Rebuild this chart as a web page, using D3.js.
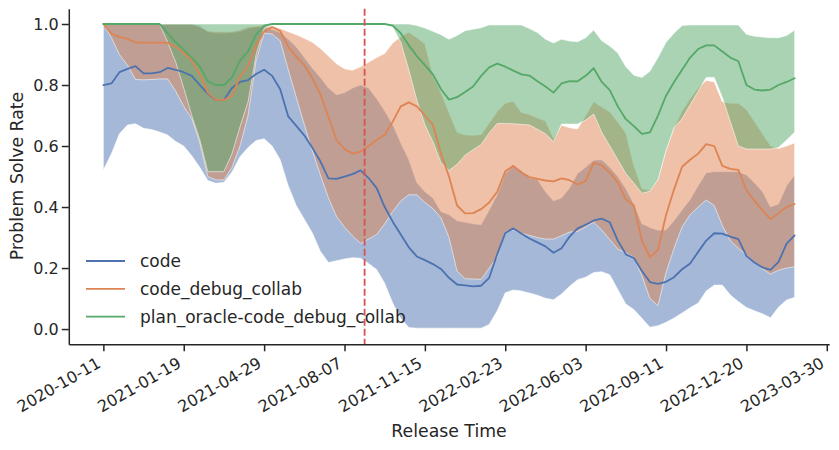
<!DOCTYPE html>
<html><head><meta charset="utf-8">
<script src="https://cdn.jsdelivr.net/npm/d3@7"></script>
<style>
body{margin:0;background:#fff}
svg{display:block}
text{font-family:"DejaVu Sans",Verdana,sans-serif;fill:#262626}
</style>
</head><body>
<svg id="chart" width="839" height="450"></svg>
<script>
const dates = ["2020-10-11","2020-10-21","2020-10-31","2020-11-10","2020-11-20","2020-11-30","2020-12-10","2020-12-20","2020-12-30",
"2021-01-09","2021-01-19","2021-01-29","2021-02-08","2021-02-18","2021-02-28","2021-03-10","2021-03-20","2021-03-30","2021-04-09","2021-04-19","2021-04-29","2021-05-09","2021-05-19","2021-05-29","2021-06-08","2021-06-18","2021-06-28","2021-07-08","2021-07-18","2021-07-28","2021-08-07","2021-08-17","2021-08-27","2021-09-06","2021-09-16","2021-09-26","2021-10-06","2021-10-16","2021-10-26","2021-11-05","2021-11-15","2021-11-25","2021-12-05","2021-12-15","2021-12-25",
"2022-01-04","2022-01-14","2022-01-24","2022-02-03","2022-02-13","2022-02-23","2022-03-05","2022-03-15","2022-03-25","2022-04-04","2022-04-14","2022-04-24","2022-05-04","2022-05-14","2022-05-24","2022-06-03","2022-06-13","2022-06-23","2022-07-03","2022-07-13","2022-07-23","2022-08-02","2022-08-12","2022-08-22","2022-09-01","2022-09-11","2022-09-21","2022-10-01","2022-10-11","2022-10-21","2022-10-31","2022-11-10","2022-11-20","2022-11-30","2022-12-10","2022-12-20","2022-12-30",
"2023-01-09","2023-01-19","2023-01-29","2023-02-08","2023-02-18"];
const tickDates = ["2020-10-11","2021-01-19","2021-04-29","2021-08-07","2021-11-15","2022-02-23","2022-06-03","2022-09-11","2022-12-20","2023-03-30"];
const yTicks = [0.0,0.2,0.4,0.6,0.8,1.0];
const cutoffDate = "2021-09-01";
const seriesNames = ["code","code_debug_collab","plan_oracle-code_debug_collab"];
const seriesColors = ["#4C72B0","#DD8452","#55A868"];

const codeMean = [0.80,0.805,0.842,0.853,0.862,0.838,0.838,0.842,0.856,0.85,
0.842,0.83,0.80,0.772,0.751,0.751,0.79,0.81,0.816,0.836,
0.85,0.83,0.786,0.697,0.666,0.635,0.594,0.55,0.494,0.492,
0.50,0.508,0.52,0.495,0.462,0.40,0.352,0.31,0.268,0.238,
0.226,0.213,0.197,0.168,0.146,0.143,0.14,0.142,0.168,0.245,
0.315,0.33,0.313,0.297,0.284,0.271,0.25,0.265,0.303,0.33,
0.342,0.356,0.362,0.35,0.29,0.245,0.233,0.19,0.154,0.148,
0.155,0.17,0.196,0.215,0.253,0.29,0.314,0.313,0.303,0.295,
0.24,0.218,0.202,0.194,0.22,0.28,0.307];
const codeLow = [0.521,0.575,0.64,0.669,0.673,0.658,0.654,0.646,0.636,0.615,
0.60,0.568,0.53,0.487,0.478,0.481,0.515,0.565,0.595,0.618,
0.624,0.60,0.555,0.47,0.405,0.36,0.315,0.255,0.218,0.224,
0.23,0.234,0.232,0.215,0.195,0.15,0.085,0.035,0.005,0.003,
0.003,0.003,0.003,0.003,0.003,0.003,0.003,0.003,0.015,0.06,
0.119,0.128,0.125,0.118,0.111,0.101,0.096,0.115,0.14,0.162,
0.17,0.185,0.188,0.178,0.13,0.082,0.064,0.035,0.006,0.011,
0.022,0.036,0.053,0.07,0.085,0.125,0.144,0.144,0.112,0.09,
0.071,0.06,0.05,0.037,0.072,0.095,0.104];
const codeHigh = [1,1,1,1,1,1,1,1,1,1,
1,1,0.995,0.975,0.97,0.97,0.972,0.975,0.985,0.99,
0.99,0.982,0.972,0.95,0.925,0.89,0.855,0.825,0.79,0.768,
0.775,0.79,0.80,0.79,0.755,0.715,0.67,0.61,0.555,0.48,
0.45,0.43,0.385,0.375,0.355,0.35,0.345,0.342,0.39,0.44,
0.51,0.535,0.52,0.495,0.49,0.45,0.42,0.43,0.462,0.51,
0.53,0.553,0.555,0.53,0.50,0.46,0.41,0.345,0.333,0.324,
0.325,0.355,0.39,0.425,0.47,0.512,0.516,0.516,0.516,0.516,
0.505,0.48,0.45,0.40,0.41,0.47,0.505];

const cdcMean = [1.0,0.968,0.958,0.951,0.94,0.939,0.939,0.939,0.938,0.925,
0.905,0.88,0.835,0.775,0.751,0.751,0.765,0.827,0.86,0.93,
0.975,0.99,0.977,0.925,0.893,0.865,0.822,0.77,0.696,0.62,
0.59,0.575,0.582,0.60,0.62,0.637,0.68,0.73,0.743,0.73,
0.70,0.669,0.575,0.50,0.405,0.379,0.38,0.393,0.415,0.45,
0.517,0.535,0.513,0.498,0.492,0.487,0.484,0.494,0.488,0.474,
0.485,0.545,0.537,0.513,0.48,0.425,0.405,0.29,0.235,0.26,
0.374,0.458,0.532,0.555,0.575,0.606,0.60,0.535,0.525,0.522,
0.455,0.42,0.39,0.36,0.38,0.40,0.41];
const cdcLow = [1.0,0.955,0.90,0.865,0.818,0.817,0.818,0.82,0.82,0.78,
0.73,0.69,0.61,0.50,0.489,0.489,0.53,0.60,0.70,0.88,
0.97,0.967,0.945,0.85,0.76,0.67,0.585,0.505,0.43,0.37,
0.334,0.305,0.281,0.295,0.31,0.345,0.385,0.42,0.44,0.44,
0.415,0.395,0.365,0.30,0.19,0.165,0.164,0.163,0.20,0.235,
0.318,0.325,0.314,0.307,0.30,0.295,0.295,0.306,0.318,0.32,
0.335,0.35,0.325,0.293,0.262,0.25,0.235,0.175,0.10,0.077,
0.185,0.265,0.335,0.375,0.40,0.423,0.405,0.34,0.29,0.265,
0.243,0.22,0.197,0.18,0.193,0.20,0.204];
const cdcHigh = [1,1,1,1,1,1,1,1,1,1,
1,1,0.99,0.977,0.975,0.975,0.975,0.98,0.99,0.993,
0.995,0.992,0.985,0.975,0.965,0.953,0.94,0.92,0.895,0.87,
0.853,0.848,0.86,0.875,0.89,0.903,0.938,0.958,0.973,0.955,
0.935,0.83,0.775,0.71,0.645,0.636,0.635,0.638,0.675,0.713,
0.74,0.747,0.71,0.703,0.692,0.682,0.625,0.668,0.66,0.656,
0.70,0.745,0.728,0.712,0.678,0.642,0.535,0.46,0.455,0.49,
0.585,0.66,0.715,0.755,0.79,0.815,0.81,0.745,0.74,0.74,
0.72,0.68,0.64,0.60,0.592,0.60,0.61];

const planMean = [1,1,1,1,1,1,1,1,0.97,0.94,
0.915,0.89,0.86,0.812,0.80,0.80,0.825,0.88,0.91,0.965,
0.995,1,1,1,1,1,1,1,1,1,
1,1,1,1,1,1,0.995,0.97,0.93,0.895,
0.865,0.835,0.787,0.752,0.76,0.777,0.795,0.83,0.858,0.87,
0.86,0.847,0.835,0.831,0.812,0.795,0.775,0.805,0.813,0.812,
0.83,0.855,0.81,0.783,0.73,0.688,0.665,0.64,0.645,0.70,
0.765,0.81,0.85,0.89,0.918,0.93,0.93,0.91,0.89,0.878,
0.80,0.785,0.782,0.785,0.80,0.81,0.822];
const planLow = [1,1,1,1,1,1,1,1,0.94,0.875,
0.79,0.70,0.62,0.516,0.516,0.516,0.575,0.663,0.745,0.90,
0.985,1,1,1,1,1,1,1,1,1,
1,1,1,1,1,1,0.99,0.94,0.85,0.75,
0.67,0.614,0.545,0.52,0.54,0.57,0.588,0.605,0.643,0.674,
0.674,0.673,0.671,0.669,0.655,0.64,0.614,0.672,0.672,0.672,
0.685,0.705,0.645,0.60,0.555,0.51,0.478,0.445,0.452,0.49,
0.585,0.66,0.69,0.735,0.78,0.825,0.825,0.76,0.68,0.60,
0.59,0.59,0.59,0.59,0.595,0.62,0.645];
const planHigh = [1,1,1,1,1,1,1,1,1,1,
1,1,1,1,1,1,1,1,1,1,
1,1,1,1,1,1,1,1,1,1,
1,1,1,1,1,1,1,1,1,0.995,
0.987,0.976,0.965,0.95,0.962,0.978,0.983,0.988,0.997,0.997,
0.997,0.997,0.997,0.985,0.972,0.95,0.938,0.95,0.944,0.942,
0.955,0.98,0.945,0.928,0.905,0.86,0.832,0.825,0.845,0.89,
0.94,0.97,0.995,0.997,0.997,0.997,0.997,0.997,0.997,0.997,
0.966,0.96,0.957,0.955,0.955,0.962,0.98];

const series = [
  {name: seriesNames[0], color: seriesColors[0], mean: codeMean, low: codeLow, high: codeHigh},
  {name: seriesNames[1], color: seriesColors[1], mean: cdcMean, low: cdcLow, high: cdcHigh},
  {name: seriesNames[2], color: seriesColors[2], mean: planMean, low: planLow, high: planHigh}
];

const parse = d3.utcParse("%Y-%m-%d");
const X = dates.map(parse);
const svg = d3.select("#chart");
const FONT = '"DejaVu Sans", Verdana, sans-serif';

const x = d3.scaleUtc()
  .domain([d3.utcDay.offset(X[0], -43), d3.utcDay.offset(X[X.length - 1], 43)])
  .range([68.8, 829.2]);
const y = d3.scaleLinear().domain([-0.05, 1.05]).range([344.3, 8.75]);

// bands (drawn below all lines)
const area = (lo, hi) => d3.area().x((d, i) => x(X[i])).y0((d, i) => y(lo[i])).y1((d, i) => y(hi[i]));
series.forEach(s => {
  svg.append("path")
    .attr("d", area(s.low, s.high)(s.mean))
    .attr("fill", s.color).attr("fill-opacity", 0.5)
    .attr("stroke", "#ffffff").attr("stroke-opacity", 0.55).attr("stroke-width", 1);
});

// lines
const line = d3.line().x((d, i) => x(X[i])).y(d => y(d));
series.forEach(s => {
  svg.append("path")
    .attr("d", line(s.mean))
    .attr("fill", "none").attr("stroke", s.color)
    .attr("stroke-width", 1.8).attr("stroke-linejoin", "round").attr("stroke-linecap", "round");
});

// cutoff dashed line
svg.append("line")
  .attr("x1", x(parse(cutoffDate))).attr("x2", x(parse(cutoffDate)))
  .attr("y1", y(1.05)).attr("y2", y(-0.05))
  .attr("stroke", "#d65353").attr("stroke-width", 1.8).attr("stroke-dasharray", "7,3");

// axes
const yAxis = svg.append("g").attr("transform", "translate(68.8,0)")
  .call(d3.axisLeft(y).tickValues(yTicks).tickFormat(d3.format(".1f")).tickSize(7).tickPadding(3).tickSizeOuter(0));
const xAxis = svg.append("g").attr("transform", "translate(0,344.3)")
  .call(d3.axisBottom(x).tickValues(tickDates.map(parse)).tickFormat(d3.utcFormat("%Y-%m-%d")).tickSize(7).tickSizeOuter(0));

[yAxis, xAxis].forEach(g => {
  g.select(".domain").attr("stroke", "#262626").attr("stroke-width", 1.5);
  g.selectAll(".tick line").attr("stroke", "#262626").attr("stroke-width", 1.5);
  g.selectAll(".tick text").attr("fill", "#262626").style("font-size", "16px").style("font-family", FONT);
});
xAxis.selectAll(".tick text")
  .attr("x", null).attr("y", null).attr("dy", null)
  .attr("text-anchor", "end")
  .attr("transform", "translate(-2,22) rotate(-30)");

// axis labels
svg.append("text").attr("x", 449).attr("y", 437).attr("text-anchor", "middle")
  .style("font-size", "17.3px").text("Release Time");
svg.append("text").attr("transform", "translate(23,176) rotate(-90)").attr("text-anchor", "middle")
  .style("font-size", "17.3px").text("Problem Solve Rate");

// legend
const legend = svg.append("g");
series.forEach((s, i) => {
  const cy = 261 + i * 27.8;
  legend.append("line").attr("x1", 86).attr("x2", 125).attr("y1", cy).attr("y2", cy)
    .attr("stroke", s.color).attr("stroke-width", 1.8);
  legend.append("text").attr("x", 140).attr("y", cy + 6.2).style("font-size", "17px").text(s.name);
});
</script>
</body></html>
